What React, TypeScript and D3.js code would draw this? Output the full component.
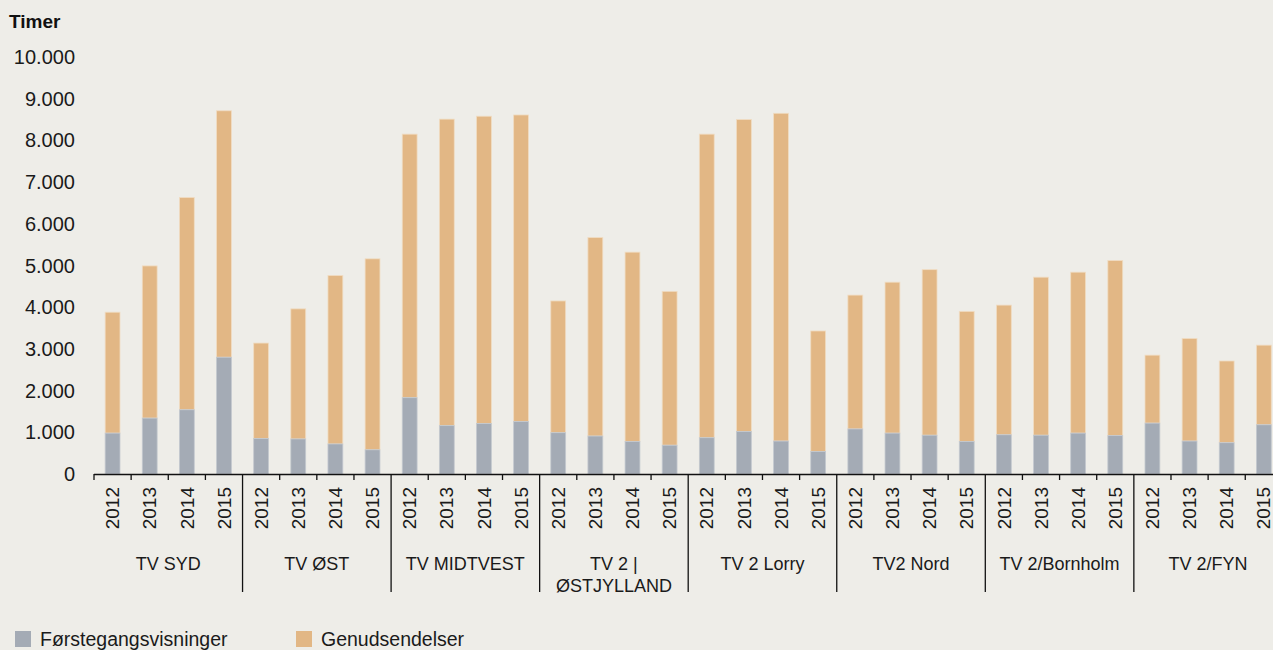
import React, { useEffect, useRef } from "react";
import * as d3 from "d3";

// TV stations (groups) and years inside each group
const stations = [
  "TV SYD",
  "TV ØST",
  "TV MIDTVEST",
  "TV 2 |\nØSTJYLLAND",
  "TV 2 Lorry",
  "TV2 Nord",
  "TV 2/Bornholm",
  "TV 2/FYN",
];
const years = ["2012", "2013", "2014", "2015"];

// hours, 4 years per station, in station order
const forstegang = [
  980, 1340, 1540, 2800,
  850, 840, 720, 580,
  1830, 1160, 1210, 1260,
  990, 910, 780, 690,
  870, 1020, 790, 540,
  1080, 980, 930, 780,
  940, 930, 980, 920,
  1220, 790, 750, 1180,
];
const genudsendelser = [
  2900, 3650, 5090, 5910,
  2290, 3120, 4040, 4580,
  6320, 7350, 7370, 7350,
  3160, 4760, 4540, 3690,
  7280, 7480, 7860, 2890,
  3210, 3620, 3970, 3120,
  3110, 3790, 3860, 4200,
  1630, 2460, 1960, 1910,
];

const yTicks = [0, 1000, 2000, 3000, 4000, 5000, 6000, 7000, 8000, 9000, 10000];

const GRAY = "#a4abb5";
const ORANGE = "#e2b785";
const BG = "#eeede8";
const FONT = "'Liberation Sans', Arial, sans-serif";

const W = 1273;
const H = 650;

const Chart = () => {
  const ref = useRef<SVGSVGElement>(null);

  useEffect(() => {
    const svg = d3.select(ref.current);
    svg.selectAll("*").remove();

    const left = 94;
    const groupW = 148.55;
    const baseY = 474;

    const x0 = d3.scaleBand()
      .domain(stations)
      .range([left, left + groupW * stations.length]);

    const x1 = d3.scaleBand()
      .domain(years)
      .range([0, x0.bandwidth()])
      .paddingInner(0.6)
      .paddingOuter(0.3);

    const y = d3.scaleLinear().domain([0, 10000]).range([baseY, 57]);

    svg.append("rect").attr("width", W).attr("height", H).attr("fill", BG);

    // title
    svg.append("text")
      .attr("x", 9)
      .attr("y", 28)
      .attr("font-family", FONT)
      .attr("font-weight", "bold")
      .attr("font-size", 19)
      .attr("fill", "#111")
      .text("Timer");

    // y tick labels
    svg.append("g")
      .selectAll("text")
      .data(yTicks)
      .enter().append("text")
      .attr("x", 75)
      .attr("y", d => y(d))
      .attr("dy", "0.35em")
      .attr("text-anchor", "end")
      .attr("font-family", FONT)
      .attr("font-size", 20)
      .attr("fill", "#1a1a1a")
      .text(d => d3.format(",")(d).replace(/,/g, "."));

    // stacked bars
    const rows = stations.flatMap((s, gi) =>
      years.map((yr, yi) => ({
        station: s,
        year: yr,
        a: forstegang[gi * 4 + yi],
        b: genudsendelser[gi * 4 + yi],
      }))
    );

    const bars = svg.append("g");
    rows.forEach(r => {
      const bx = (x0(r.station) as number) + (x1(r.year) as number);
      bars.append("rect")
        .attr("x", bx)
        .attr("width", x1.bandwidth())
        .attr("y", y(r.a + r.b))
        .attr("height", y(r.a) - y(r.a + r.b))
        .attr("fill", ORANGE)
        .attr("stroke", "#f0dcc2")
        .attr("stroke-width", 0.8);
      bars.append("rect")
        .attr("x", bx)
        .attr("width", x1.bandwidth())
        .attr("y", y(r.a))
        .attr("height", baseY - y(r.a))
        .attr("fill", GRAY)
        .attr("stroke", "#c4c9cf")
        .attr("stroke-width", 0.8);
    });

    // x axis line
    const axis = svg.append("g");
    axis.append("line")
      .attr("x1", left)
      .attr("x2", left + groupW * stations.length)
      .attr("y1", baseY + 0.5)
      .attr("y2", baseY + 0.5)
      .attr("stroke", "#111")
      .attr("stroke-width", 1.5);

    // ticks: short between years, long between stations
    stations.forEach((s, gi) => {
      years.forEach((yr, yi) => {
        const tx = (x0(s) as number) + yi * x0.bandwidth() / years.length;
        const long = yi === 0 && gi > 0;
        axis.append("line")
          .attr("x1", tx)
          .attr("x2", tx)
          .attr("y1", baseY)
          .attr("y2", long ? 592 : 480)
          .attr("stroke", "#111")
          .attr("stroke-width", 1.3);
      });

      // year labels
      years.forEach(yr => {
        const cx = (x0(s) as number) + (x1(yr) as number) + x1.bandwidth() / 2;
        axis.append("text")
          .attr("transform", `translate(${cx},487) rotate(-90)`)
          .attr("dy", "0.35em")
          .attr("text-anchor", "end")
          .attr("font-family", FONT)
          .attr("font-size", 19)
          .attr("fill", "#1a1a1a")
          .text(yr);
      });

      // station label (may be two lines)
      const gx = (x0(s) as number) + x0.bandwidth() / 2;
      const t = axis.append("text")
        .attr("text-anchor", "middle")
        .attr("font-family", FONT)
        .attr("font-size", 18)
        .attr("fill", "#1a1a1a");
      s.split("\n").forEach((line, li) => {
        t.append("tspan").attr("x", gx).attr("y", 570 + li * 22).text(line);
      });
    });

    // legend
    const legend = [
      { label: "Førstegangsvisninger", color: GRAY, x: 15 },
      { label: "Genudsendelser", color: ORANGE, x: 296 },
    ];
    const lg = svg.append("g");
    legend.forEach(l => {
      lg.append("rect")
        .attr("x", l.x)
        .attr("y", 631)
        .attr("width", 16)
        .attr("height", 16)
        .attr("fill", l.color);
      lg.append("text")
        .attr("x", l.x + 25)
        .attr("y", 646)
        .attr("font-family", FONT)
        .attr("font-size", 19.5)
        .attr("fill", "#1a1a1a")
        .text(l.label);
    });
  }, []);

  return <svg ref={ref} width={W} height={H} style={{ display: "block" }} />;
};

export default function App() {
  return (
    <div style={{ position: "absolute", left: 0, top: 0, width: W, height: H, overflow: "hidden" }}>
      <Chart />
    </div>
  );
}
